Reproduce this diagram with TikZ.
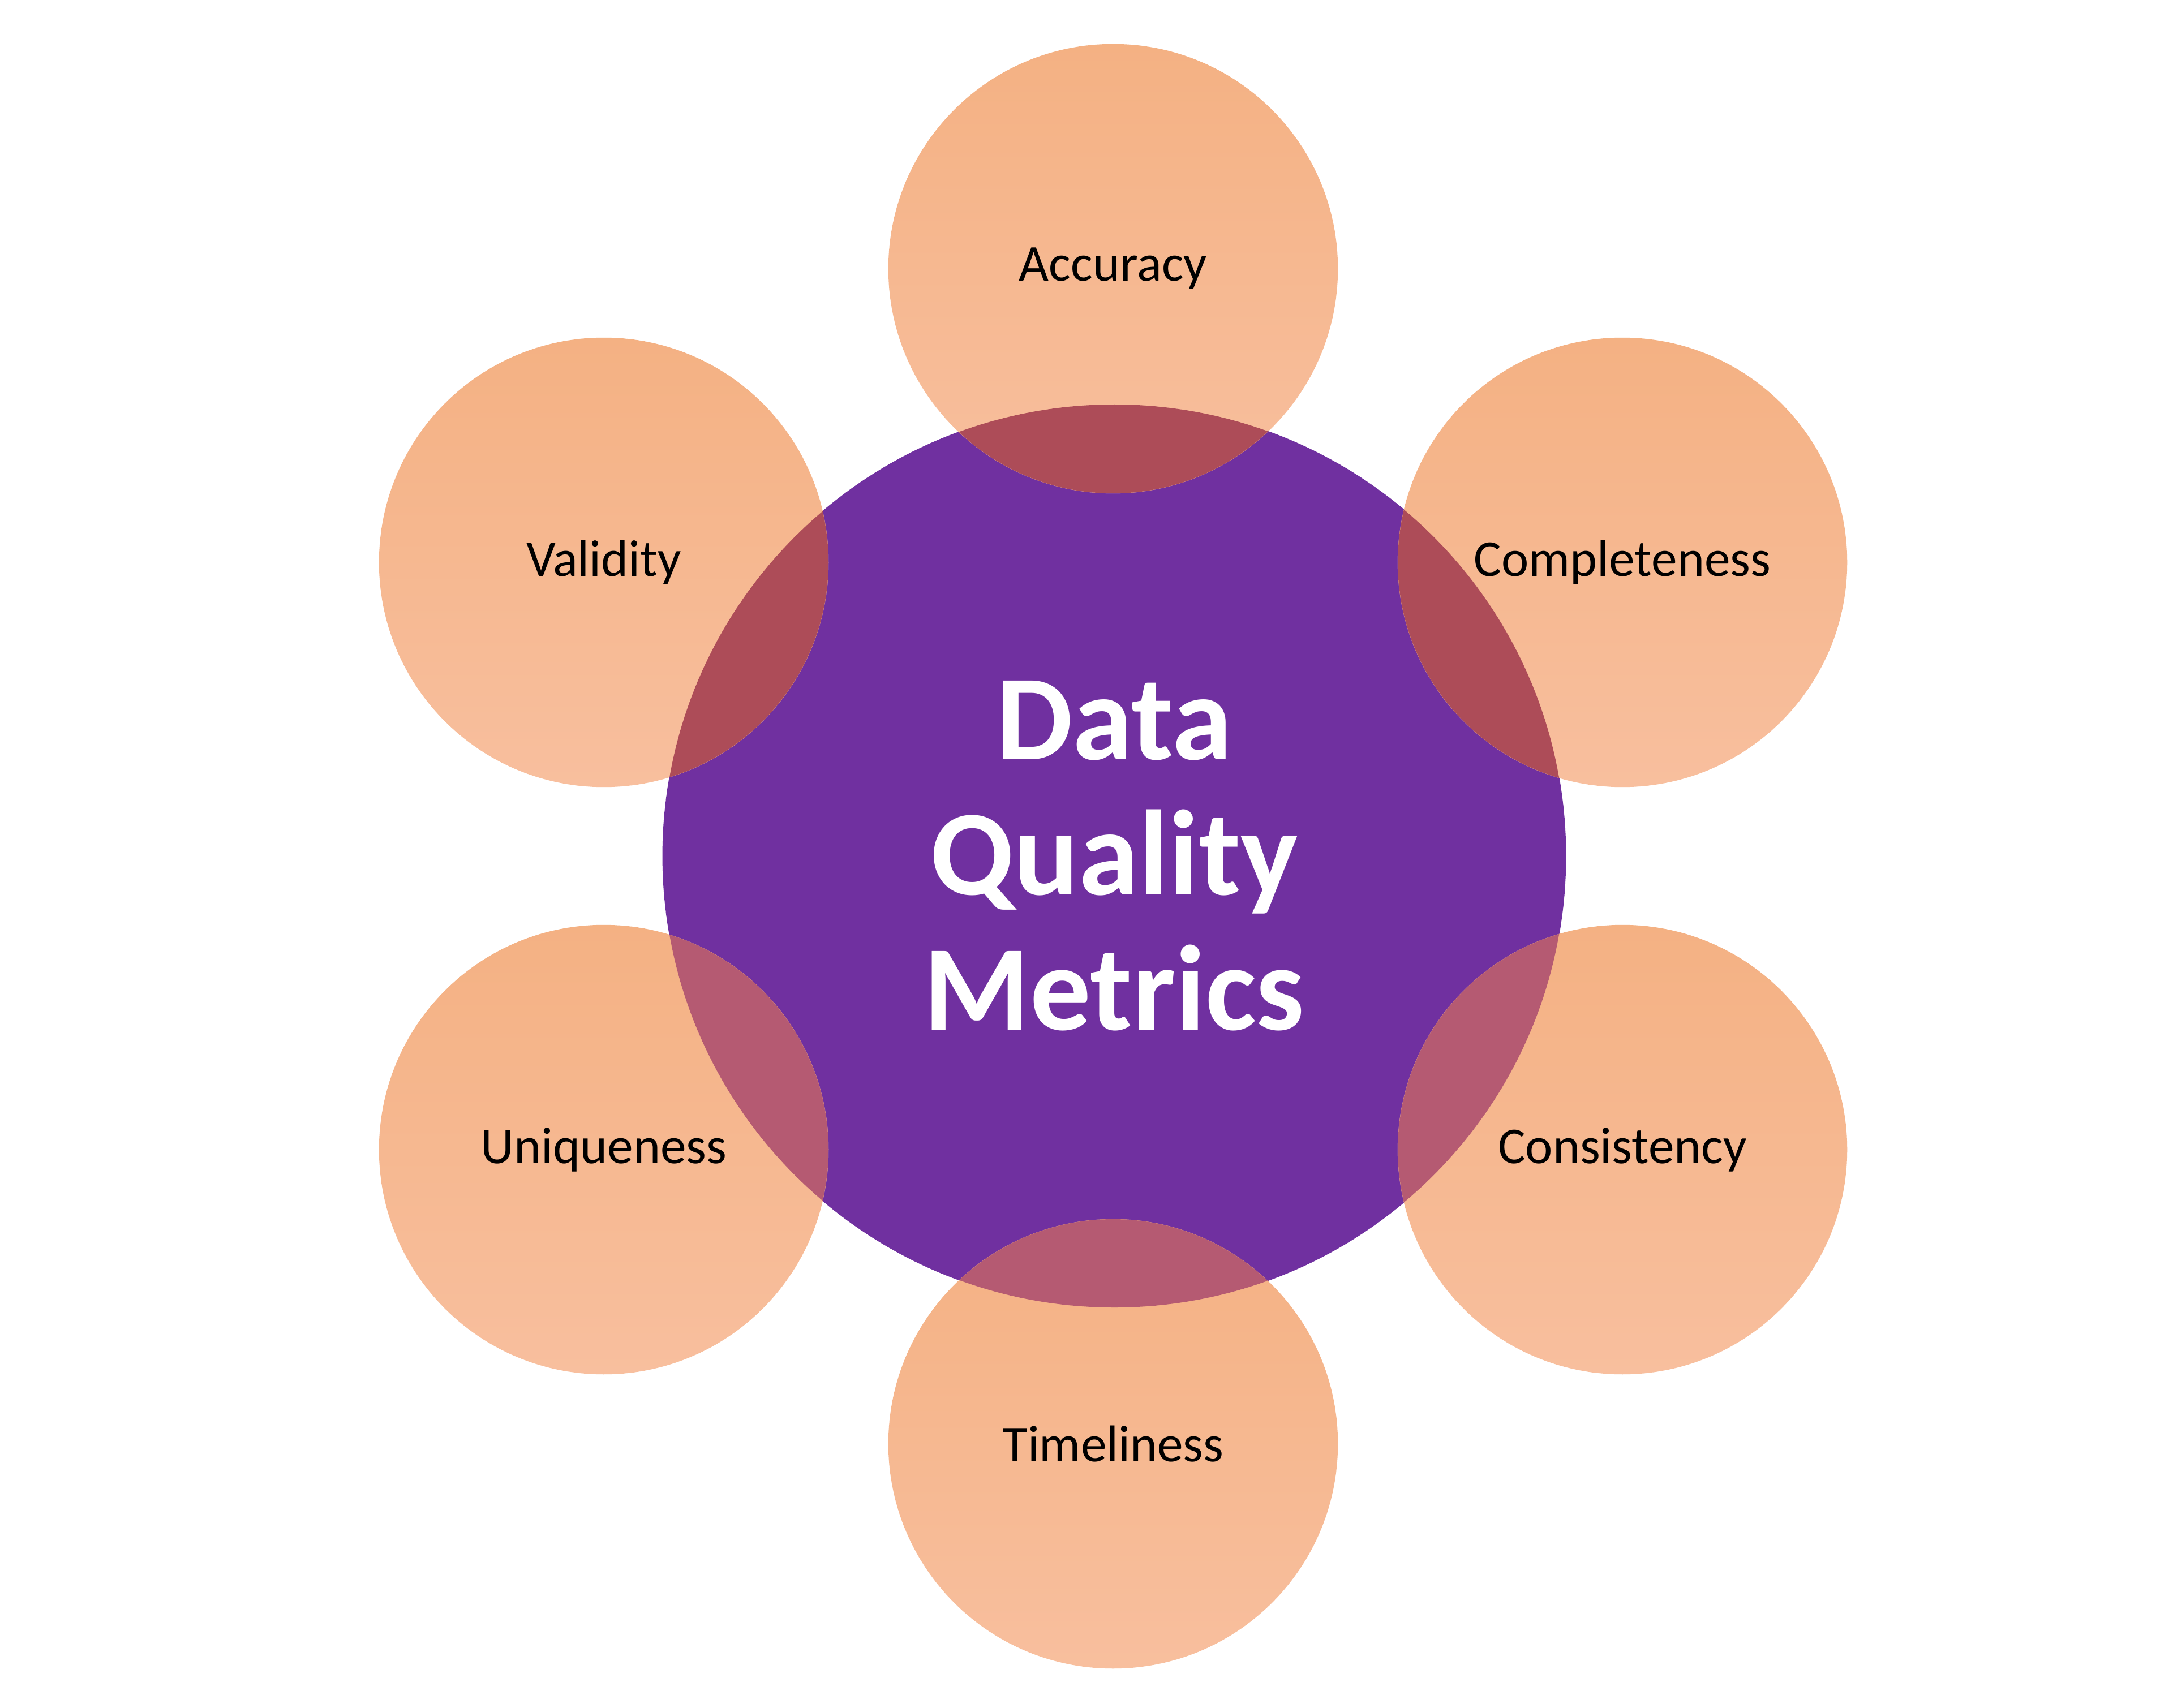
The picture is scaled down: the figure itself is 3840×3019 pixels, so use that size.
\documentclass[tikz,border=0pt]{standalone}
\usepackage{fontspec}
\setmainfont{Carlito}
\definecolor{dqpurple}{HTML}{7030A0}
\definecolor{peachtop}{HTML}{F4B183}
\definecolor{peachbot}{HTML}{F8BF9E}
\definecolor{ovtop}{HTML}{AD4C58}
\definecolor{ovbot}{HTML}{B55A72}
\tikzset{
  hub/.style={circle, fill=dqpurple, minimum size=15.96cm, inner sep=0pt},
  petal/.style={circle, top color=peachtop, bottom color=peachbot, draw=none, minimum size=7.94cm, inner sep=0pt},
  lbl/.style={font=\fontsize{26}{30}\selectfont, text=black},
  hubtext/.style={font=\fontsize{61}{68}\selectfont\bfseries, text=white, align=center}
}
\begin{document}
\begin{tikzpicture}[x=0.01cm,y=-0.01cm]
\useasboundingbox (0,0) rectangle (3840,3019);
\fill[white] (0,0) rectangle (3840,3019);
\def\R{798}
\def\r{397}
\node[hub] (hub) at (1969,1513) {};
\foreach \n/\x/\y in {acc/1967/475, com/2867/994, val/1067/994, uni/1067/2032, con/2867/2032, tim/1967/2552}{
  \node[petal] (\n) at (\x,\y) {};
}
\foreach \n/\x/\y/\c in {acc/1967/475/ovtop, com/2867/994/ovtop, val/1067/994/ovtop, uni/1067/2032/ovbot, con/2867/2032/ovbot, tim/1967/2552/ovbot}{
  \begin{scope}
    \clip (\x,\y) circle (\r);
    \fill[\c] (1969,1513) circle (\R);
  \end{scope}
}
\node[lbl] at (acc) {Accuracy};
\node[lbl] at (com) {Completeness};
\node[lbl] at (val) {Validity};
\node[lbl] at (uni) {Uniqueness};
\node[lbl] at (con) {Consistency};
\node[lbl] at (tim) {Timeliness};
\node[hubtext] at (hub) {Data\\Quality\\Metrics};
\end{tikzpicture}
\end{document}
